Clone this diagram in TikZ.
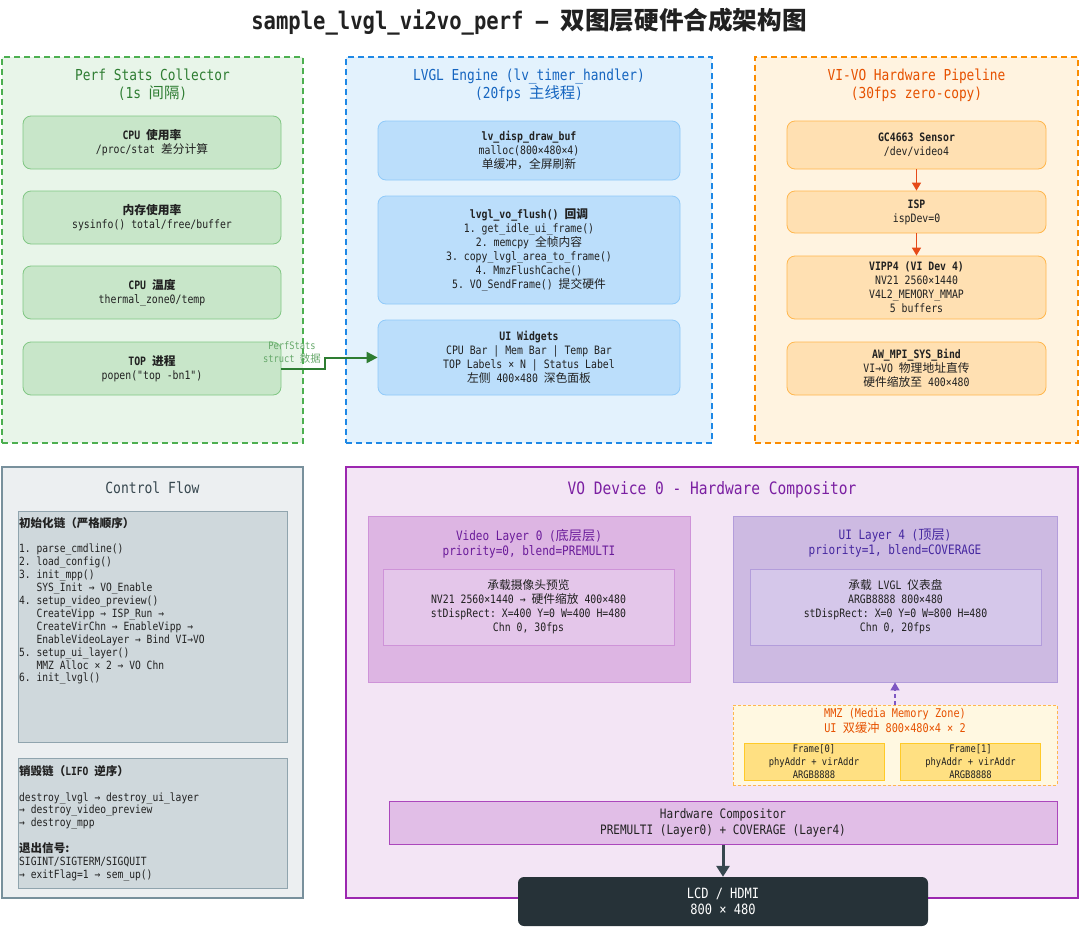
\documentclass[tikz,border=0pt]{standalone}
\usepackage{fontspec}
\setmonofont{DejaVu Sans Mono}[Scale=1.18, FakeStretch=0.85]
\renewcommand{\familydefault}{\ttdefault}
\newfontfamily\zhfont{Noto Sans CJK SC}[Scale=1.2]
\newcommand{\zh}[1]{{\zhfont #1}}
\newcommand{\ind}{\hphantom{1. }}
\usetikzlibrary{positioning, arrows.meta}

\definecolor{txt}{HTML}{212121}
\definecolor{gfill}{HTML}{E8F5E9}
\definecolor{gline}{HTML}{4CAF50}
\definecolor{gcardfill}{HTML}{C8E6C9}
\definecolor{gcardline}{HTML}{81C784}
\definecolor{gtitle}{HTML}{2E7D32}
\definecolor{glabel}{HTML}{66A86A}
\definecolor{bfill}{HTML}{E3F2FD}
\definecolor{bline}{HTML}{1E88E5}
\definecolor{bcardfill}{HTML}{BBDEFB}
\definecolor{bcardline}{HTML}{90CAF9}
\definecolor{btitle}{HTML}{1565C0}
\definecolor{ofill}{HTML}{FFF3E0}
\definecolor{oline}{HTML}{FB8C00}
\definecolor{ocardfill}{HTML}{FFE0B2}
\definecolor{ocardline}{HTML}{FFB74D}
\definecolor{otitle}{HTML}{E65100}
\definecolor{oarrow}{HTML}{E64A19}
\definecolor{sfill}{HTML}{ECEFF1}
\definecolor{sline}{HTML}{78909C}
\definecolor{scardfill}{HTML}{CFD8DC}
\definecolor{scardline}{HTML}{90A4AE}
\definecolor{stitle}{HTML}{37474F}
\definecolor{pfill}{HTML}{F3E5F5}
\definecolor{pline}{HTML}{9C27B0}
\definecolor{ptitle}{HTML}{7B1FA2}
\definecolor{vidfill}{HTML}{DDB5E3}
\definecolor{vidinner}{HTML}{E4C6EA}
\definecolor{vidline}{HTML}{CE93D8}
\definecolor{vidtitle}{HTML}{6A1B9A}
\definecolor{uifill}{HTML}{CDBAE2}
\definecolor{uiinner}{HTML}{D5C7EA}
\definecolor{uiline}{HTML}{B39DDB}
\definecolor{uititle}{HTML}{4527A0}
\definecolor{uiarrow}{HTML}{7E57C2}
\definecolor{mmzfill}{HTML}{FFF8E1}
\definecolor{framefill}{HTML}{FFE082}
\definecolor{frameline}{HTML}{FFCA28}
\definecolor{hwfill}{HTML}{E1BEE7}
\definecolor{hwline}{HTML}{AB47BC}
\definecolor{lcdfill}{HTML}{263238}

\begin{document}
\begin{tikzpicture}[
  x=1pt, y=-1pt,
  panel/.style={draw, line width=1.5pt, dash pattern=on 6pt off 4pt, inner sep=0pt},
  solidpanel/.style={draw, line width=1.5pt, inner sep=0pt},
  card/.style={draw, line width=0.8pt, rounded corners=8pt, align=center, inner sep=2pt,
    text=txt, font=\fontsize{9.8}{14}\selectfont},
  paneltitle/.style={align=center, font=\fontsize{12.8}{18}\selectfont},
  cftext/.style={anchor=north west, align=left, inner sep=0pt, text=txt,
    font=\fontsize{9.6}{12.9}\selectfont},
  layerbox/.style={draw, line width=0.8pt, inner sep=0pt},
  layertitle/.style={align=center, font=\fontsize{11}{15}\selectfont},
  layerinner/.style={draw, line width=0.8pt, align=center, text=txt,
    font=\fontsize{9.8}{14}\selectfont},
  framebox/.style={draw=frameline, fill=framefill, line width=0.8pt, align=center, text=txt,
    minimum width=140, minimum height=37, inner sep=0pt, font=\fontsize{8.8}{13}\selectfont},
  pipe/.style={-{Triangle[length=8pt,width=9pt]}, oarrow, line width=1.5pt},
]

\useasboundingbox (0,0) rectangle (1080,927);

\node[font=\fontsize{20.5}{25}\selectfont\bfseries, text=txt] (title) at (529,22)
  {sample\_lvgl\_vi2vo\_perf – \zh{双图层硬件合成架构图}};

% -------------------------
% PERF STATS (left, green)
% -------------------------

\node[panel, draw=gline, fill=gfill, minimum width=301, minimum height=386] (perf) at (152.5,250) {};
\node[paneltitle, text=gtitle] (perftitle) at (152.5,85) {Perf Stats Collector\\(1s \zh{间隔})};

\node[card, draw=gcardline, fill=gcardfill, minimum width=258, minimum height=53] (cpuuse) at (152,142.5)
  {\textbf{CPU \zh{使用率}}\\/proc/stat \zh{差分计算}};
\node[card, draw=gcardline, fill=gcardfill, minimum width=258, minimum height=53] (memuse) at (152,217.5)
  {\textbf{\zh{内存使用率}}\\sysinfo() total/free/buffer};
\node[card, draw=gcardline, fill=gcardfill, minimum width=258, minimum height=53] (cputemp) at (152,292.5)
  {\textbf{CPU \zh{温度}}\\thermal\_zone0/temp};
\node[card, draw=gcardline, fill=gcardfill, minimum width=258, minimum height=53] (topproc) at (152,368.5)
  {\textbf{TOP \zh{进程}}\\popen("top -bn1")};

% -------------------------
% LVGL ENGINE (middle, blue)
% -------------------------

\node[panel, draw=bline, fill=bfill, minimum width=366, minimum height=386] (lvgl) at (529,250) {};
\node[paneltitle, text=btitle] (lvgltitle) at (529,85) {LVGL Engine (lv\_timer\_handler)\\(20fps \zh{主线程})};

\node[card, draw=bcardline, fill=bcardfill, minimum width=302, minimum height=59] (drawbuf) at (529,150.5)
  {\textbf{lv\_disp\_draw\_buf}\\malloc(800×480×4)\\\zh{单缓冲，全屏刷新}};
\node[card, draw=bcardline, fill=bcardfill, minimum width=302, minimum height=108] (flush) at (529,250)
  {\textbf{lvgl\_vo\_flush() \zh{回调}}\\1. get\_idle\_ui\_frame()\\2. memcpy \zh{全帧内容}\\
   3. copy\_lvgl\_area\_to\_frame()\\4. MmzFlushCache()\\5. VO\_SendFrame() \zh{提交硬件}};
\node[card, draw=bcardline, fill=bcardfill, minimum width=302, minimum height=75] (widgets) at (529,357.5)
  {\textbf{UI Widgets}\\CPU Bar | Mem Bar | Temp Bar\\TOP Labels × N | Status Label\\\zh{左侧} 400×480 \zh{深色面板}};

% -------------------------
% VI-VO PIPELINE (right, orange)
% -------------------------

\node[panel, draw=oline, fill=ofill, minimum width=323, minimum height=386] (vivo) at (916.5,250) {};
\node[paneltitle, text=otitle] (vivotitle) at (916.5,85) {VI-VO Hardware Pipeline\\(30fps zero-copy)};

\node[card, draw=ocardline, fill=ocardfill, minimum width=259, minimum height=48] (sensor) at (916.5,145)
  {\textbf{GC4663 Sensor}\\/dev/video4};
\node[card, draw=ocardline, fill=ocardfill, minimum width=259, minimum height=42] (isp) at (916.5,212)
  {\textbf{ISP}\\ispDev=0};
\node[card, draw=ocardline, fill=ocardfill, minimum width=259, minimum height=63] (vipp) at (916.5,287.5)
  {\textbf{VIPP4 (VI Dev 4)}\\NV21 2560×1440\\V4L2\_MEMORY\_MMAP\\5 buffers};
\node[card, draw=ocardline, fill=ocardfill, minimum width=259, minimum height=53] (bind) at (916.5,368.5)
  {\textbf{AW\_MPI\_SYS\_Bind}\\VI→VO \zh{物理地址直传}\\\zh{硬件缩放至} 400×480};

\draw[pipe] (sensor) -- (isp);
\draw[pipe] (isp) -- (vipp);

% stats -> widgets
\draw[-{Triangle[length=11pt,width=11pt]}, gtitle, line width=2pt]
  (topproc.east) -- ++(44,0) |- (widgets.west);
\node[align=center, text=glabel, font=\fontsize{8.7}{13}\selectfont] (pslabel) at (292,352.5)
  {PerfStats\\struct \zh{数据}};

% -------------------------
% CONTROL FLOW (bottom left)
% -------------------------

\node[solidpanel, draw=sline, fill=sfill, minimum width=301, minimum height=431] (ctrl) at (152.5,682.5) {};
\node[font=\fontsize{13}{16}\selectfont, text=stitle] (ctrltitle) at (152.5,488) {Control Flow};

\node[draw=scardline, fill=scardfill, line width=0.8pt, minimum width=269, minimum height=231] (initbox) at (152.5,626.5) {};
\node[cftext] (initlist) at (19,517)
  {\textbf{\zh{初始化链（严格顺序）}}\\[12.9pt]
   1. parse\_cmdline()\\
   2. load\_config()\\
   3. init\_mpp()\\
   \ind SYS\_Init → VO\_Enable\\
   4. setup\_video\_preview()\\
   \ind CreateVipp → ISP\_Run →\\
   \ind CreateVirChn → EnableVipp →\\
   \ind EnableVideoLayer → Bind VI→VO\\
   5. setup\_ui\_layer()\\
   \ind MMZ Alloc × 2 → VO Chn\\
   6. init\_lvgl()};

\node[draw=scardline, fill=scardfill, line width=0.8pt, minimum width=269, minimum height=130] (exitbox) at (152.5,823) {};
\node[cftext] (exitlist) at (19,765)
  {\textbf{\zh{销毁链（}LIFO \zh{逆序）}}\\[12.9pt]
   destroy\_lvgl → destroy\_ui\_layer\\
   → destroy\_video\_preview\\
   → destroy\_mpp\\[12.9pt]
   \textbf{\zh{退出信号:}}\\
   SIGINT/SIGTERM/SIGQUIT\\
   → exitFlag=1 → sem\_up()};

% -------------------------
% VO DEVICE (bottom right, purple)
% -------------------------

\node[solidpanel, draw=pline, fill=pfill, minimum width=732, minimum height=431] (vodev) at (712,682.5) {};
\node[font=\fontsize{14.5}{18}\selectfont, text=ptitle] (vodevtitle) at (712,490) {VO Device 0 - Hardware Compositor};

% video layer 0
\node[layerbox, draw=vidline, fill=vidfill, minimum width=322, minimum height=166] (vidlayer) at (529,599) {};
\node[layertitle, text=vidtitle] (vidtitle) at (529,543.5) {Video Layer 0 (\zh{底层层})\\priority=0, blend=PREMULTI};
\node[layerinner, draw=vidline, fill=vidinner, minimum width=291, minimum height=76] (vidcontent) at (528.5,607)
  {\zh{承载摄像头预览}\\NV21 2560×1440 → \zh{硬件缩放} 400×480\\stDispRect: X=400 Y=0 W=400 H=480\\Chn 0, 30fps};

% ui layer 4
\node[layerbox, draw=uiline, fill=uifill, minimum width=324, minimum height=166] (uilayer) at (895,599) {};
\node[layertitle, text=uititle] (uititle) at (895,543.5) {UI Layer 4 (\zh{顶层})\\priority=1, blend=COVERAGE};
\node[layerinner, draw=uiline, fill=uiinner, minimum width=291, minimum height=76] (uicontent) at (895.5,607)
  {\zh{承载} LVGL \zh{仪表盘}\\ARGB8888 800×480\\stDispRect: X=0 Y=0 W=800 H=480\\Chn 0, 20fps};

% mmz double buffer
\node[draw=ocardline, fill=mmzfill, line width=0.8pt, dash pattern=on 3pt off 2pt, minimum width=324, minimum height=80, inner sep=0pt] (mmz) at (895,745) {};
\node[align=center, text=otitle, font=\fontsize{10.2}{14.5}\selectfont] (mmztitle) at (895,721)
  {MMZ (Media Memory Zone)\\UI \zh{双缓冲} 800×480×4 × 2};
\node[framebox] (frame0) at (814,761.5) {Frame[0]\\phyAddr + virAddr\\ARGB8888};
\node[framebox] (frame1) at (970.5,761.5) {Frame[1]\\phyAddr + virAddr\\ARGB8888};

\draw[-{Triangle[length=8pt,width=9pt]}, uiarrow, line width=1.3pt, dash pattern=on 4pt off 3pt]
  (mmz.north) -- (uilayer.south);

% compositor -> display
\node[draw=hwline, fill=hwfill, line width=1pt, minimum width=668, minimum height=43, align=center, text=txt,
  inner sep=0pt, font=\fontsize{11}{16}\selectfont] (hwcomp) at (723,822.5)
  {Hardware Compositor\\PREMULTI (Layer0) + COVERAGE (Layer4)};
\node[fill=lcdfill, rounded corners=6pt, minimum width=410, minimum height=49, align=center, text=white,
  inner sep=0pt, font=\fontsize{12}{16}\selectfont] (lcd) at (723,901.5) {LCD / HDMI\\800 × 480};

\draw[-{Triangle[length=11pt,width=13pt]}, stitle, line width=3pt] (hwcomp.south) -- (lcd.north);

\end{tikzpicture}
\end{document}
